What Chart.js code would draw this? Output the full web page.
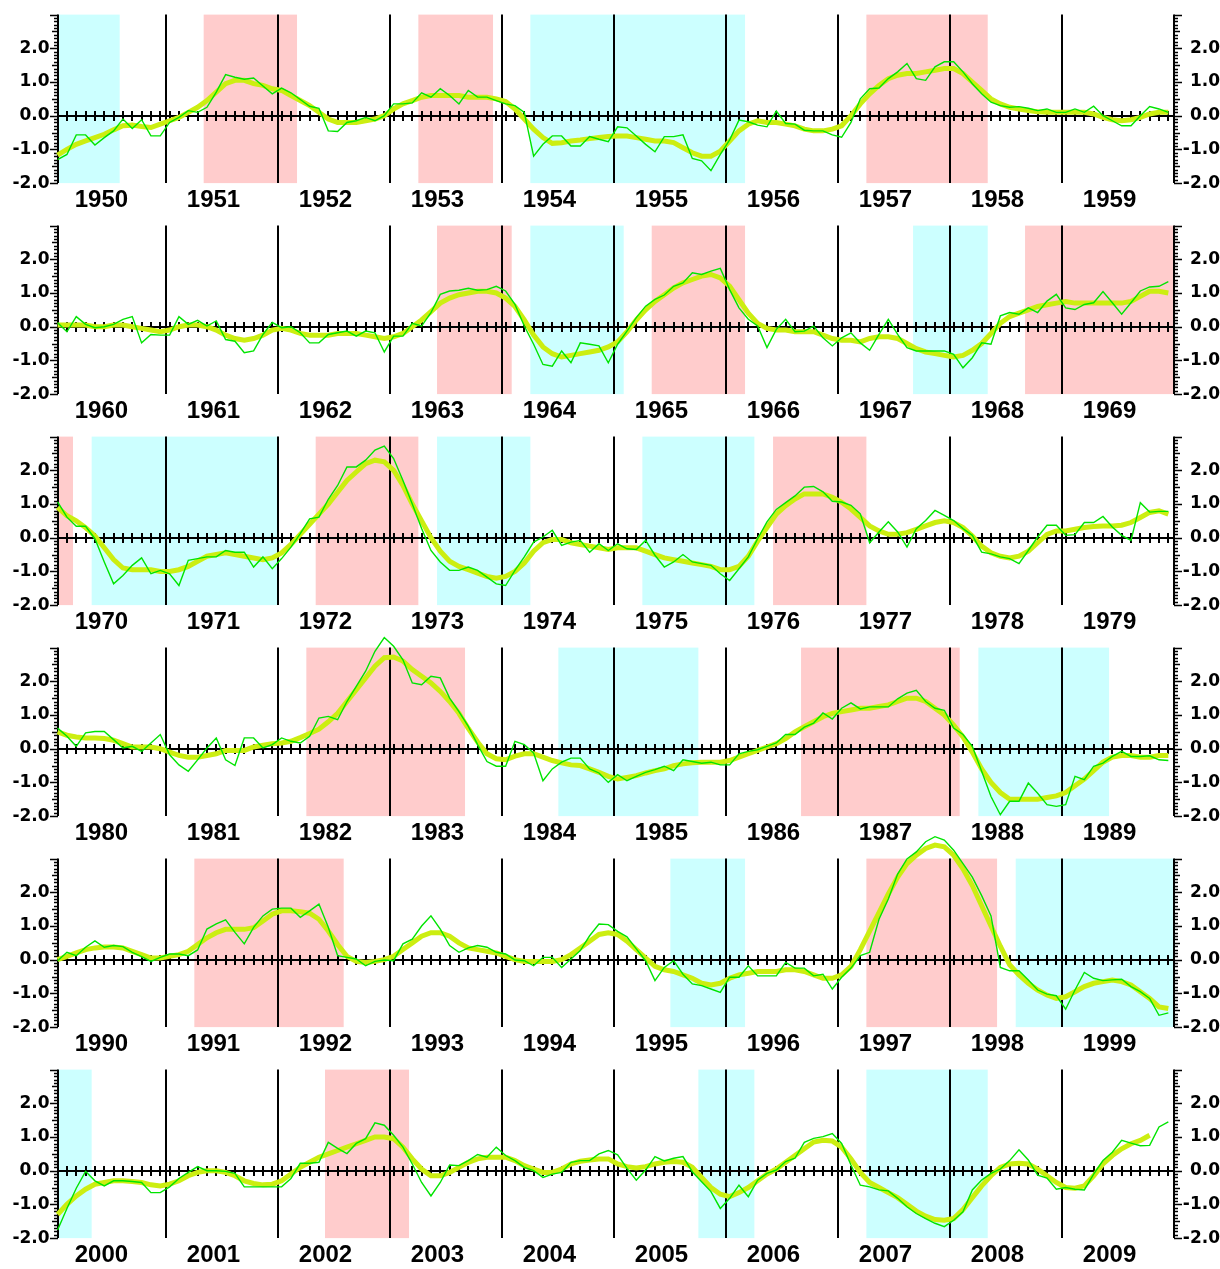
<!DOCTYPE html>
<html>
<head>
<meta charset="utf-8">
<title>NINO.3 SST deviation 1950-2009</title>
<script src="https://cdn.jsdelivr.net/npm/chart.js@4.4.1/dist/chart.umd.min.js"></script>
<style>
  body { margin: 0; background: #fff; }
  #wrap { position: relative; width: 1220px; height: 1269px; overflow: hidden; }
  #wrap canvas { position: absolute; left: 0; }
</style>
</head>
<body>
<div id="wrap"></div>
<script>
// monthly NINO.3 SST deviation (green) and 5-month running mean (yellow), Jan..Dec, one array per decade
const monthly1950s = [
  -1.3,-1.15,-0.57,-0.57,-0.87,-0.65,-0.45,-0.1,-0.38,-0.12,-0.6,-0.6,
  -0.2,-0.05,0.15,0.1,0.25,0.7,1.22,1.14,1.08,1.12,0.88,0.65,
  0.82,0.68,0.48,0.28,0.22,-0.45,-0.47,-0.2,-0.15,-0.05,-0.15,0.0,
  0.35,0.35,0.38,0.68,0.55,0.8,0.6,0.35,0.75,0.55,0.55,0.45,
  0.35,0.3,0.1,-1.2,-0.85,-0.6,-0.6,-0.9,-0.9,-0.62,-0.7,-0.77,
  -0.33,-0.36,-0.6,-0.85,-1.07,-0.62,-0.62,-0.57,-1.27,-1.34,-1.63,-1.15,
  -0.72,-0.13,-0.18,-0.28,-0.33,0.14,-0.23,-0.25,-0.43,-0.45,-0.45,-0.57,
  -0.64,-0.2,0.5,0.8,0.82,1.1,1.3,1.55,1.1,1.05,1.45,1.6,
  1.6,1.3,0.95,0.65,0.4,0.3,0.25,0.27,0.22,0.15,0.2,0.1,
  0.1,0.2,0.1,0.28,0.0,-0.15,-0.3,-0.3,0.0,0.27,0.2,0.1
];
const smooth1950s = [
  -1.17,-1.0,-0.85,-0.75,-0.65,-0.55,-0.42,-0.3,-0.28,-0.32,-0.35,-0.25,
  -0.15,-0.05,0.1,0.25,0.45,0.7,0.95,1.05,1.05,0.95,0.9,0.8,
  0.75,0.6,0.45,0.3,0.1,-0.1,-0.2,-0.2,-0.2,-0.15,-0.1,0.0,
  0.2,0.35,0.45,0.55,0.6,0.6,0.6,0.6,0.55,0.55,0.55,0.5,
  0.42,0.2,-0.1,-0.4,-0.65,-0.82,-0.8,-0.75,-0.72,-0.68,-0.65,-0.62,
  -0.6,-0.6,-0.65,-0.7,-0.75,-0.75,-0.8,-0.95,-1.1,-1.2,-1.2,-1.05,
  -0.75,-0.45,-0.25,-0.15,-0.2,-0.2,-0.25,-0.3,-0.4,-0.45,-0.45,-0.4,
  -0.3,0.0,0.35,0.65,0.9,1.1,1.2,1.25,1.25,1.3,1.35,1.4,
  1.4,1.25,1.0,0.75,0.5,0.35,0.25,0.2,0.15,0.12,0.1,0.1,
  0.1,0.1,0.1,0.05,-0.05,-0.12,-0.15,-0.12,-0.05,0.05,0.1,0.1
];
const monthly1960s = [
  0.12,-0.15,0.3,0.07,-0.03,0.0,0.07,0.22,0.3,-0.48,-0.23,-0.25,
  -0.25,0.3,0.07,0.19,0.02,0.17,-0.38,-0.43,-0.77,-0.72,-0.23,0.13,
  -0.03,0.0,-0.18,-0.48,-0.48,-0.23,-0.18,-0.13,-0.28,-0.13,-0.18,-0.75,
  -0.28,-0.28,0.1,0.02,0.42,0.96,1.06,1.08,1.14,1.08,1.1,1.2,
  1.06,0.66,0.02,-0.52,-1.12,-1.17,-0.72,-1.07,-0.48,-0.52,-0.57,-1.07,
  -0.52,-0.13,0.27,0.61,0.81,0.94,1.2,1.3,1.6,1.55,1.65,1.73,
  1.1,0.56,0.22,0.02,-0.62,-0.08,0.22,-0.15,-0.13,0.02,-0.33,-0.57,
  -0.33,-0.18,-0.48,-0.7,-0.23,0.22,-0.23,-0.62,-0.72,-0.72,-0.72,-0.72,
  -0.82,-1.22,-0.92,-0.48,-0.52,0.32,0.42,0.37,0.56,0.42,0.76,0.96,
  0.56,0.51,0.66,0.71,1.04,0.71,0.37,0.71,1.06,1.18,1.2,1.34
];
const smooth1960s = [
  0.05,0.05,0.05,0.05,0.0,0.0,0.05,0.05,0.0,-0.05,-0.1,-0.15,
  -0.1,0.0,0.05,0.05,0.0,-0.1,-0.25,-0.35,-0.4,-0.35,-0.25,-0.1,
  -0.05,-0.1,-0.2,-0.25,-0.25,-0.25,-0.2,-0.2,-0.2,-0.25,-0.3,-0.35,
  -0.3,-0.2,0.0,0.2,0.45,0.7,0.85,0.95,1.0,1.05,1.05,1.0,
  0.85,0.6,0.2,-0.25,-0.6,-0.8,-0.9,-0.85,-0.8,-0.75,-0.7,-0.6,
  -0.45,-0.15,0.2,0.5,0.75,0.95,1.15,1.3,1.4,1.5,1.55,1.45,
  1.2,0.8,0.4,0.1,-0.05,-0.1,-0.1,-0.15,-0.15,-0.15,-0.25,-0.35,
  -0.4,-0.4,-0.45,-0.35,-0.3,-0.3,-0.35,-0.5,-0.65,-0.75,-0.8,-0.85,
  -0.9,-0.85,-0.7,-0.5,-0.2,0.1,0.3,0.4,0.5,0.6,0.65,0.7,
  0.75,0.7,0.7,0.7,0.7,0.7,0.7,0.75,0.9,1.05,1.05,1.0
];
const monthly1970s = [
  1.06,0.61,0.34,0.34,-0.03,-0.72,-1.37,-1.12,-0.82,-0.6,-1.07,-0.97,
  -1.07,-1.42,-0.67,-0.62,-0.57,-0.57,-0.38,-0.43,-0.43,-0.87,-0.57,-0.92,
  -0.62,-0.28,0.12,0.56,0.61,1.14,1.55,2.1,2.1,2.3,2.6,2.72,
  2.35,1.7,1.0,0.27,-0.38,-0.72,-0.97,-0.97,-0.87,-0.97,-1.17,-1.37,
  -1.42,-0.97,-0.57,-0.13,0.02,0.22,-0.23,-0.13,-0.08,-0.43,-0.18,-0.38,
  -0.18,-0.33,-0.35,-0.08,-0.52,-0.87,-0.72,-0.5,-0.72,-0.77,-0.82,-1.07,
  -1.27,-0.92,-0.57,-0.03,0.47,0.84,1.04,1.24,1.5,1.52,1.36,1.08,
  1.06,0.96,0.71,-0.15,0.17,0.47,0.17,-0.28,0.27,0.51,0.81,0.66,
  0.51,0.27,0.07,-0.43,-0.48,-0.57,-0.62,-0.77,-0.38,0.02,0.37,0.37,
  0.07,0.09,0.45,0.45,0.63,0.32,0.07,-0.08,1.04,0.76,0.78,0.78
];
const smooth1970s = [
  0.9,0.65,0.5,0.3,0.05,-0.3,-0.65,-0.9,-0.95,-0.95,-0.95,-1.0,
  -1.0,-0.95,-0.85,-0.7,-0.55,-0.5,-0.45,-0.5,-0.55,-0.6,-0.65,-0.6,
  -0.45,-0.2,0.1,0.4,0.7,1.0,1.35,1.7,1.95,2.2,2.3,2.25,
  2.0,1.55,1.0,0.5,0.0,-0.4,-0.7,-0.85,-0.95,-1.05,-1.15,-1.2,
  -1.15,-1.0,-0.75,-0.4,-0.15,-0.05,-0.05,-0.15,-0.2,-0.25,-0.3,-0.35,
  -0.3,-0.3,-0.3,-0.4,-0.5,-0.6,-0.65,-0.7,-0.75,-0.8,-0.85,-0.95,
  -0.95,-0.85,-0.55,-0.1,0.3,0.7,0.95,1.15,1.3,1.3,1.3,1.2,
  1.05,0.85,0.6,0.35,0.2,0.1,0.1,0.15,0.25,0.35,0.45,0.5,
  0.45,0.3,0.05,-0.25,-0.45,-0.55,-0.6,-0.55,-0.4,-0.15,0.1,0.2,
  0.2,0.25,0.3,0.33,0.35,0.35,0.37,0.45,0.6,0.75,0.8,0.7
];
const monthly1980s = [
  0.61,0.37,0.07,0.47,0.51,0.51,0.27,0.02,0.07,-0.08,0.17,0.42,
  -0.18,-0.48,-0.67,-0.33,0.02,0.32,-0.33,-0.5,0.32,0.32,0.02,0.12,
  0.32,0.22,0.17,0.37,0.91,0.96,0.86,1.4,1.85,2.3,2.89,3.3,
  3.04,2.64,1.95,1.9,2.15,2.1,1.5,1.1,0.66,0.12,-0.38,-0.52,
  -0.52,0.22,0.12,-0.13,-0.95,-0.6,-0.4,-0.28,-0.28,-0.6,-0.72,-1.0,
  -0.77,-0.95,-0.82,-0.7,-0.62,-0.52,-0.65,-0.33,-0.38,-0.43,-0.4,-0.48,
  -0.48,-0.15,-0.08,-0.03,0.07,0.17,0.42,0.42,0.64,0.76,1.06,0.88,
  1.2,1.36,1.18,1.24,1.24,1.24,1.48,1.65,1.73,1.4,1.2,1.14,
  0.61,0.42,0.07,-0.67,-1.42,-1.96,-1.56,-1.56,-1.02,-1.32,-1.66,-1.71,
  -1.66,-0.82,-0.92,-0.52,-0.43,-0.23,-0.08,-0.23,-0.23,-0.21,-0.33,-0.35
];
const smooth1980s = [
  0.5,0.4,0.35,0.32,0.32,0.3,0.25,0.15,0.05,0.05,0.05,0.0,
  -0.1,-0.2,-0.25,-0.25,-0.2,-0.15,-0.05,-0.05,-0.05,0.05,0.1,0.15,
  0.17,0.22,0.33,0.45,0.58,0.8,1.05,1.4,1.75,2.1,2.45,2.7,
  2.72,2.6,2.35,2.15,1.95,1.7,1.4,1.05,0.6,0.2,-0.15,-0.3,
  -0.33,-0.22,-0.15,-0.15,-0.25,-0.35,-0.42,-0.48,-0.5,-0.6,-0.7,-0.82,
  -0.9,-0.85,-0.8,-0.72,-0.65,-0.6,-0.5,-0.45,-0.42,-0.4,-0.4,-0.4,
  -0.35,-0.25,-0.15,-0.05,0.05,0.15,0.3,0.5,0.65,0.8,0.95,1.05,
  1.1,1.15,1.2,1.2,1.25,1.3,1.4,1.5,1.5,1.4,1.2,1.0,
  0.7,0.35,-0.1,-0.6,-1.0,-1.3,-1.5,-1.5,-1.5,-1.5,-1.45,-1.4,
  -1.3,-1.1,-0.9,-0.65,-0.4,-0.25,-0.2,-0.2,-0.25,-0.25,-0.2,-0.2
];
const monthly1990s = [
  -0.03,0.22,0.12,0.37,0.56,0.37,0.42,0.39,0.22,0.09,-0.05,0.07,
  0.17,0.17,0.12,0.29,0.91,1.06,1.18,0.81,0.47,0.96,1.3,1.5,
  1.53,1.53,1.26,1.45,1.65,0.96,0.12,0.07,0.02,-0.18,-0.05,-0.01,
  -0.03,0.47,0.61,1.0,1.3,0.91,0.42,0.22,0.35,0.42,0.37,0.22,
  0.17,-0.01,-0.03,-0.18,0.07,0.07,-0.23,0.02,0.27,0.71,1.06,1.04,
  0.84,0.68,0.32,-0.03,-0.62,-0.23,-0.03,-0.43,-0.72,-0.77,-0.87,-0.97,
  -0.52,-0.52,-0.18,-0.48,-0.48,-0.48,-0.08,-0.25,-0.25,-0.48,-0.43,-0.87,
  -0.52,-0.25,0.12,0.22,1.2,1.8,2.54,2.99,3.2,3.5,3.65,3.55,
  3.25,2.85,2.45,1.9,1.3,-0.23,-0.33,-0.33,-0.6,-0.9,-1.02,-1.07,
  -1.47,-0.9,-0.38,-0.55,-0.62,-0.6,-0.58,-0.8,-0.95,-1.15,-1.65,-1.58
];
const smooth1990s = [
  0.0,0.1,0.2,0.3,0.35,0.38,0.38,0.35,0.25,0.15,0.05,0.05,
  0.1,0.15,0.25,0.45,0.65,0.8,0.9,0.9,0.9,0.95,1.15,1.35,
  1.45,1.45,1.42,1.38,1.2,0.85,0.45,0.1,-0.05,-0.08,-0.05,0.0,
  0.1,0.3,0.5,0.7,0.8,0.8,0.7,0.5,0.35,0.3,0.25,0.2,
  0.1,0.0,-0.05,-0.05,-0.05,-0.05,0.0,0.15,0.35,0.55,0.75,0.8,
  0.75,0.55,0.3,0.05,-0.2,-0.3,-0.35,-0.45,-0.55,-0.7,-0.75,-0.7,
  -0.55,-0.45,-0.4,-0.35,-0.35,-0.35,-0.3,-0.3,-0.35,-0.45,-0.55,-0.55,
  -0.45,-0.2,0.3,0.85,1.4,1.95,2.45,2.85,3.1,3.3,3.4,3.35,
  3.1,2.7,2.2,1.6,1.0,0.4,-0.15,-0.45,-0.7,-0.9,-1.05,-1.15,
  -1.1,-0.95,-0.8,-0.7,-0.65,-0.6,-0.65,-0.75,-0.95,-1.15,-1.4,-1.45
];
const monthly2000s = [
  -1.76,-1.12,-0.52,-0.02,-0.3,-0.45,-0.3,-0.3,-0.32,-0.35,-0.65,-0.65,
  -0.48,-0.23,-0.05,0.12,0.0,0.0,-0.02,-0.08,-0.48,-0.48,-0.48,-0.48,
  -0.48,-0.23,0.22,0.22,0.25,0.84,0.66,0.51,0.81,0.95,1.42,1.35,
  1.05,0.7,0.2,-0.35,-0.75,-0.35,0.17,0.15,0.3,0.48,0.4,0.7,
  0.45,0.3,0.1,0.0,-0.2,-0.1,-0.05,0.25,0.3,0.3,0.5,0.6,
  0.47,0.07,-0.28,0.02,0.42,0.29,0.37,0.42,-0.03,-0.33,-0.62,-1.12,
  -0.82,-0.43,-0.77,-0.28,-0.08,0.02,0.27,0.37,0.84,0.96,1.01,1.1,
  0.81,0.17,-0.43,-0.48,-0.57,-0.6,-0.82,-1.07,-1.27,-1.42,-1.56,-1.66,
  -1.47,-1.22,-0.57,-0.28,-0.08,0.05,0.3,0.62,0.32,-0.13,-0.22,-0.55,
  -0.5,-0.55,-0.57,-0.1,0.3,0.55,0.9,0.82,0.74,0.75,1.3,1.45
];
const smooth2000s = [
  -1.3,-1.0,-0.75,-0.55,-0.4,-0.35,-0.3,-0.3,-0.32,-0.35,-0.42,-0.45,
  -0.4,-0.3,-0.15,-0.05,0.0,0.0,-0.05,-0.15,-0.3,-0.38,-0.42,-0.4,
  -0.3,-0.1,0.1,0.25,0.4,0.5,0.6,0.7,0.8,0.9,1.0,1.0,
  0.95,0.7,0.35,0.05,-0.15,-0.15,-0.05,0.1,0.25,0.35,0.4,0.4,
  0.4,0.3,0.15,0.05,-0.05,-0.05,0.05,0.2,0.28,0.32,0.35,0.35,
  0.2,0.12,0.08,0.12,0.2,0.25,0.27,0.25,0.1,-0.2,-0.5,-0.7,
  -0.77,-0.65,-0.5,-0.3,-0.1,0.05,0.25,0.45,0.65,0.85,0.9,0.88,
  0.7,0.35,-0.05,-0.35,-0.5,-0.65,-0.8,-1.0,-1.2,-1.35,-1.45,-1.47,
  -1.42,-1.15,-0.8,-0.45,-0.15,0.1,0.2,0.22,0.2,0.05,-0.15,-0.35,
  -0.5,-0.52,-0.45,-0.15,0.2,0.45,0.65,0.8,0.9,1.05,null,null
];

// JMA event periods, first and last month
const elNino = [
  ['1951-05','1952-02'], ['1953-04','1953-11'], ['1957-04','1958-04'],
  ['1963-06','1964-01'], ['1965-05','1966-02'], ['1968-09','1970-02'],
  ['1972-05','1973-03'], ['1976-06','1977-03'], ['1982-04','1983-08'],
  ['1986-09','1988-01'], ['1991-04','1992-07'], ['1997-04','1998-05'],
  ['2002-06','2003-02']
];
const laNina = [
  ['1949-08','1950-07'], ['1954-04','1956-02'], ['1964-04','1965-01'],
  ['1967-09','1968-04'], ['1970-05','1971-12'], ['1973-06','1974-03'],
  ['1975-04','1976-03'], ['1984-07','1985-09'], ['1988-04','1989-05'],
  ['1995-07','1996-02'], ['1998-08','2000-04'], ['2005-10','2006-03'],
  ['2007-04','2008-04']
];

const decades = [1950, 1960, 1970, 1980, 1990, 2000];
const monthlySeries = [monthly1950s, monthly1960s, monthly1970s, monthly1980s, monthly1990s, monthly2000s];
const smoothSeries = [smooth1950s, smooth1960s, smooth1970s, smooth1980s, smooth1990s, smooth2000s];
const yTicks = [-2, -1, 0, 1, 2];

const MONTH_POS = 0.35;  // where a monthly value sits inside its month
const PANEL_H = 211;
const OVER = 40;         // room above each panel for peaks that leave the frame
const LABEL_FONT = { family: 'DejaVu Sans', size: 17, weight: 'bold' };
const YEAR_FONT = { family: 'Liberation Sans', size: 24, weight: 'bold' };

function cellOf(ym, startYear) {
  const [yy, mm] = ym.split('-').map(Number);
  return (yy - startYear) * 12 + (mm - 1);
}

const decor = {
  id: 'decor',
  beforeDatasetsDraw(chart, args, opts) {
    const { ctx, chartArea: a } = chart;
    const x = chart.scales.x, y = chart.scales.y;
    ctx.save();

    const shade = (list, color) => list.forEach(([s, e]) => {
      const lo = Math.max(cellOf(s, opts.start), x.min);
      const hi = Math.min(cellOf(e, opts.start) + 1, x.max);
      if (hi <= lo) return;
      const x0 = x.getPixelForValue(lo), x1 = x.getPixelForValue(hi);
      ctx.fillStyle = color;
      ctx.fillRect(x0, a.top, x1 - x0, a.bottom - a.top);
    });
    shade(elNino, '#ffcccc');
    shade(laNina, '#ccffff');

    ctx.strokeStyle = '#000';
    ctx.lineWidth = 2;
    ctx.beginPath();
    // year separators
    for (let k = 1; k < 10; k++) {
      const px = Math.round(x.getPixelForValue(12 * k));
      ctx.moveTo(px, a.top); ctx.lineTo(px, a.bottom);
    }
    // frame sides
    const lx = Math.round(a.left), rx = Math.round(a.right);
    ctx.moveTo(lx, a.top); ctx.lineTo(lx, a.bottom);
    ctx.moveTo(rx, a.top); ctx.lineTo(rx, a.bottom);
    // zero line with month ticks
    const y0 = Math.round(y.getPixelForValue(0));
    ctx.moveTo(a.left, y0); ctx.lineTo(a.right, y0);
    for (let g = 0; g < 120; g++) {
      const px = Math.round(x.getPixelForValue(g + MONTH_POS));
      ctx.moveTo(px, y0 - 5); ctx.lineTo(px, y0 + 5);
    }
    ctx.stroke();

    // 0.1 ticks on both sides
    ctx.lineWidth = 1.5;
    ctx.beginPath();
    for (let i = -20; i <= 30; i++) {
      const py = Math.round(y.getPixelForValue(i / 10)) + 0.5;
      const len = i % 10 === 0 ? 8 : (i % 5 === 0 ? 6 : 4);
      ctx.moveTo(lx - len, py); ctx.lineTo(lx, py);
      ctx.moveTo(rx, py); ctx.lineTo(rx + len, py);
    }
    ctx.stroke();
    ctx.restore();
  }
};

const wrap = document.getElementById('wrap');

decades.forEach((start, i) => {
  const cv = document.createElement('canvas');
  cv.width = 1220;
  cv.height = PANEL_H + OVER;
  cv.style.top = (i * PANEL_H - OVER) + 'px';
  wrap.appendChild(cv);

  const toPoints = arr => arr.map((v, g) => ({ x: g + MONTH_POS, y: v }));

  new Chart(cv, {
    type: 'line',
    data: {
      datasets: [
        {
          label: 'monthly',
          data: toPoints(monthlySeries[i]),
          borderColor: '#00e400',
          borderWidth: 1.4,
          pointRadius: 0,
          tension: 0,
          clip: false,
          order: 1
        },
        {
          label: '5-month running mean',
          data: toPoints(smoothSeries[i]),
          borderColor: '#ccee11',
          borderWidth: 5,
          pointRadius: 0,
          tension: 0,
          clip: false,
          order: 2
        }
      ]
    },
    options: {
      responsive: false,
      animation: false,
      events: [],
      layout: { padding: { top: OVER + 14.6, left: 0, right: 0, bottom: 0 } },
      plugins: {
        legend: { display: false },
        tooltip: { enabled: false },
        decor: { start: start }
      },
      scales: {
        x: {
          type: 'linear',
          min: MONTH_POS,
          max: 120,
          afterFit: s => { s.height = PANEL_H - 183.1; },
          afterBuildTicks: s => {
            s.ticks = [0,1,2,3,4,5,6,7,8,9].map(k => ({ value: 12 * k + 5.05 }));
          },
          ticks: {
            callback: (v, idx) => String(start + idx),
            autoSkip: false,
            maxRotation: 0,
            minRotation: 0,
            padding: 3,
            color: '#000',
            font: YEAR_FONT
          },
          grid: { display: false, drawTicks: false },
          border: { display: false }
        },
        y: {
          position: 'left',
          min: -2,
          max: 3,
          afterFit: s => { s.width = 57.6; },
          afterBuildTicks: s => { s.ticks = yTicks.map(v => ({ value: v })); },
          ticks: {
            callback: v => v.toFixed(1),
            padding: 8,
            color: '#000',
            font: LABEL_FONT
          },
          grid: { display: false, drawTicks: false },
          border: { display: false }
        },
        y2: {
          position: 'right',
          min: -2,
          max: 3,
          afterFit: s => { s.width = 1220 - 1174.4; },
          afterBuildTicks: s => { s.ticks = yTicks.map(v => ({ value: v })); },
          ticks: {
            callback: v => v.toFixed(1),
            crossAlign: 'far',
            color: '#000',
            font: LABEL_FONT
          },
          grid: { display: false, drawTicks: false },
          border: { display: false }
        }
      }
    },
    plugins: [decor]
  });
});
</script>
</body>
</html>
